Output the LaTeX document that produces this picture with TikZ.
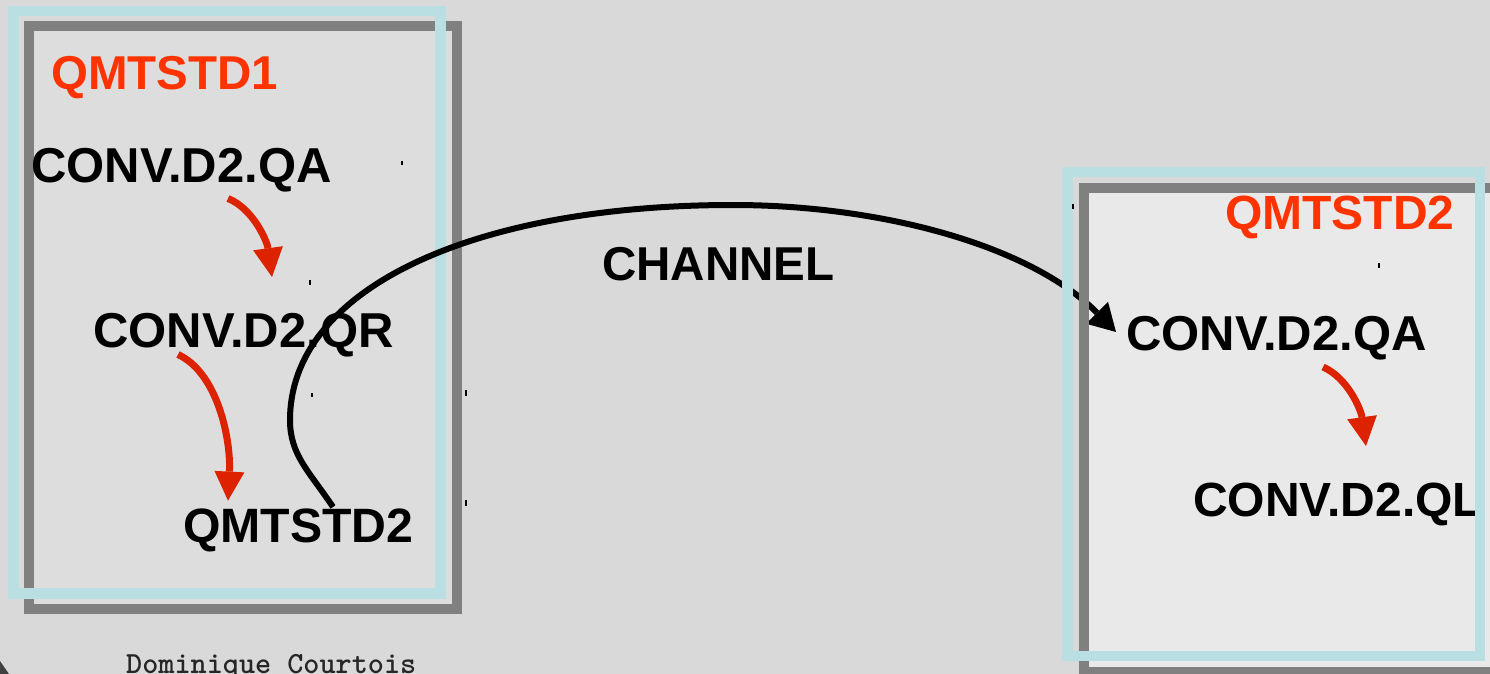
\documentclass[tikz,border=0pt]{standalone}
\usepackage{fontspec}
\setmainfont{Liberation Sans}
\usetikzlibrary{arrows.meta}
\definecolor{bgray}{HTML}{D9D9D9}
\definecolor{leftin}{HTML}{DDDDDD}
\definecolor{rightin}{HTML}{E9E9E9}
\definecolor{frameblue}{HTML}{B9DFE2}
\definecolor{framegray}{HTML}{808080}
\definecolor{qmred}{HTML}{FF3300}
\definecolor{arrowred}{HTML}{DD2200}
\begin{document}
\begin{tikzpicture}[x=1pt,y=-1pt,
  lbl/.style={font=\fontsize{49}{52}\selectfont\bfseries, inner sep=0pt, anchor=base west, text=black},
  qmlbl/.style={lbl, font=\fontsize{47.5}{50}\selectfont\bfseries, text=qmred},
  blueframe/.style={draw=frameblue, line width=10.5pt},
  grayframe/.style={draw=framegray, line width=10pt},
  redarrow/.style={draw=arrowred, line width=7pt, -{Triangle[length=29pt,width=30pt,line width=0pt]}},
  chanarrow/.style={draw=black, line width=6pt, -{Triangle[length=27pt,width=31pt,line width=0pt]}},
  tick/.style={draw=black, line width=1.2pt}
]
\useasboundingbox (0,0) rectangle (1490,674);
\clip (0,0) rectangle (1490,674);
% backdrop
\fill[bgray] (0,0) rectangle (1490,674);
\fill[leftin] (29,26) rectangle (457,609);
\fill[rightin] (1083.5,188) rectangle (1500,672);
\fill[black!75] (0,661) -- (9,674) -- (0,674) -- cycle;

% ---- queue manager QMTSTD1 ----
\draw[grayframe] (29,26) rectangle (457,609);
\node[qmlbl] (qm1) at (51,90) {QMTSTD1};
\node[lbl] (qaL) at (31,182) {CONV.D2.QA};
\node[lbl] (qrL) at (93,347) {CONV.D2.QR};
\node[lbl, font=\fontsize{48.2}{51}\selectfont\bfseries] (qm2L) at (183,542) {QMTSTD2};
\draw[blueframe] (13.5,11) rectangle (440.5,593.5);

\coordinate (r1s) at (228,198.5);
\coordinate (r1e) at (272,277);
\draw[redarrow] (r1s) .. controls (253,208.5) and (267,241) .. (r1e);
\coordinate (r2s) at (178,354.5);
\coordinate (r2e) at (228,500.6);
\draw[redarrow] (r2s) .. controls (218,373) and (231,440) .. (r2e);

\node[font=\ttfamily\bfseries\fontsize{30.7}{33}\selectfont, anchor=base west, inner sep=0pt, text=black!85] (auth) at (126,673) {Dominique Courtois};

% ---- channel between the two queue managers ----
\node[qmlbl, text=black] (chan) at (602,280) {CHANNEL};
\coordinate (chs) at (333,507);
\coordinate (che) at (1116,332);
\draw[chanarrow] (chs) .. controls (309,471) and (290,455) .. (290,420)
  .. controls (290,290) and (470,205) .. (733,205)
  .. controls (880,205) and (1030,245) .. (che);

% ---- queue manager QMTSTD2 ----
\draw[grayframe] (1083.5,188) rectangle (1500,672);
\node[qmlbl, font=\fontsize{48}{51}\selectfont\bfseries] (qm2) at (1225,229) {QMTSTD2};
\node[lbl] (qaR) at (1126,350) {CONV.D2.QA};
\node[lbl, font=\fontsize{48}{51}\selectfont\bfseries] (qlR) at (1193,516) {CONV.D2.QL};
\draw[blueframe] (1067.5,172) rectangle (1480,656);

\coordinate (r3s) at (1323,367);
\coordinate (r3e) at (1366,446);
\draw[redarrow] (r3s) .. controls (1348,378) and (1361,410) .. (r3e);

% small stray marks
\draw[tick] (402,161) -- (402,165);
\draw[tick] (310,280) -- (310,285);
\draw[tick] (312,393) -- (312,397);
\draw[tick] (466,390) -- (466,396);
\draw[tick] (466,500) -- (466,506);
\draw[tick] (1379,263) -- (1379,268);
\draw[tick] (1073,204) -- (1073,209);
\end{tikzpicture}
\end{document}
